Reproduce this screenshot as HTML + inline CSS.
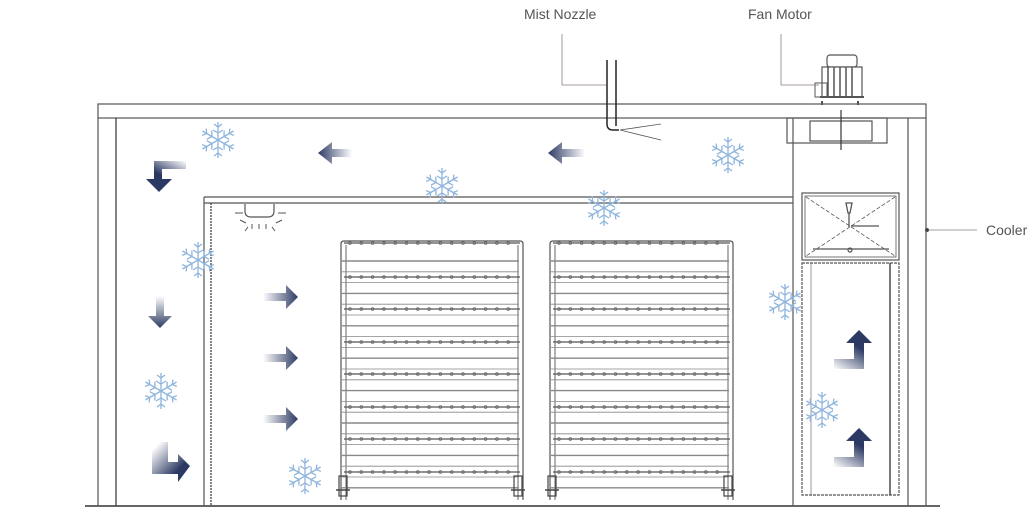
<!DOCTYPE html>
<html><head><meta charset="utf-8"><style>
html,body{margin:0;padding:0;background:#fff;width:1036px;height:519px;overflow:hidden}
svg{display:block}
text{font-family:"Liberation Sans",sans-serif;font-size:14px;fill:#555}
</style></head><body>
<svg id="s" width="1036" height="519" viewBox="0 0 1036 519" xmlns="http://www.w3.org/2000/svg">
<defs>
<linearGradient id="gl" x1="1" y1="0" x2="0" y2="0"><stop offset="0" stop-color="#2c3a63" stop-opacity="0"/><stop offset="1" stop-color="#2c3a63"/></linearGradient>
<linearGradient id="gr" x1="0" y1="0" x2="1" y2="0"><stop offset="0" stop-color="#2c3a63" stop-opacity="0"/><stop offset="1" stop-color="#2c3a63"/></linearGradient>
<linearGradient id="gd" x1="0" y1="0" x2="0" y2="1"><stop offset="0" stop-color="#2c3a63" stop-opacity="0"/><stop offset="1" stop-color="#2c3a63"/></linearGradient>
<linearGradient id="gu" x1="0" y1="1" x2="0.6" y2="0"><stop offset="0" stop-color="#2c3a63" stop-opacity="0"/><stop offset="0.7" stop-color="#2c3a63"/></linearGradient>
<linearGradient id="gc" x1="0.2" y1="0" x2="1" y2="0.8"><stop offset="0" stop-color="#2c3a63" stop-opacity="0"/><stop offset="0.75" stop-color="#2c3a63"/></linearGradient>
<linearGradient id="gt" x1="1" y1="0" x2="0.3" y2="1"><stop offset="0" stop-color="#2c3a63" stop-opacity="0"/><stop offset="0.6" stop-color="#2c3a63"/></linearGradient>
<g id="sf" stroke="#8fb5dd" stroke-width="1.3" fill="none">
<g id="br"><line x1="0" y1="0" x2="0" y2="-18"/><polyline points="-4,-16 0,-13 4,-16"/><polyline points="-5,-10 0,-7 5,-10"/></g>
<use href="#br" transform="rotate(60)"/><use href="#br" transform="rotate(120)"/><use href="#br" transform="rotate(180)"/><use href="#br" transform="rotate(240)"/><use href="#br" transform="rotate(300)"/>
</g>
</defs>
<g stroke="#555" fill="none" stroke-width="1.2">
<line x1="85" y1="506" x2="940" y2="506" stroke="#333" stroke-width="1.5"/>
<rect x="98" y="104" width="828" height="14"/>
<line x1="98" y1="118" x2="98" y2="506"/>
<line x1="116" y1="118" x2="116" y2="506" stroke="#333"/>
<line x1="926" y1="118" x2="926" y2="506"/>
<line x1="793" y1="118" x2="793" y2="506"/>
<line x1="908" y1="118" x2="908" y2="506"/>
<rect x="787" y="118" width="100" height="25"/>
<rect x="810" y="121" width="62" height="20"/>
<line x1="841" y1="110" x2="841" y2="150" stroke="#333"/>
<line x1="204" y1="197" x2="793" y2="197"/>
<line x1="204" y1="203" x2="793" y2="203"/>
<line x1="204" y1="197" x2="204" y2="506"/>
<line x1="211" y1="203" x2="211" y2="506" stroke-dasharray="2,1" stroke="#333"/>
<path d="M245 204 v7 q0 6 6 6 h17 q6 0 6 -6 v-7"/>
<path d="M235 213 h8 M278 213 h8 M240 220 l6 3 M282 220 l-6 3 M252 224 v5 M259 224 v5 M266 224 v5 M248 227 l-3 4 M272 227 l3 4" stroke-width="1"/>
<rect x="802" y="193" width="97" height="67"/>
<rect x="805" y="196" width="91" height="61" stroke-width="0.8"/>
<line x1="806" y1="197" x2="895" y2="256" stroke-dasharray="4,2" stroke-width="0.8"/>
<line x1="895" y1="197" x2="806" y2="256" stroke-dasharray="4,2" stroke-width="0.8"/>
<path d="M846 203 h6 l-2 10 h-2 z M849 213 v14 M851 226 h28" stroke-width="1.3"/>
<line x1="813" y1="249" x2="889" y2="249"/>
<circle cx="850" cy="250" r="2"/>
<rect x="802" y="263" width="97" height="232" stroke-dasharray="3,1"/>
<line x1="811" y1="263" x2="811" y2="495" stroke-width="0.6"/>
<line x1="890" y1="263" x2="890" y2="495" stroke="#222"/>
<rect x="827" y="55" width="30" height="12" rx="3"/>
<rect x="822" y="67" width="40" height="30" fill="#fff"/>
<path d="M828 67 v30 M834 67 v30 M840 67 v30 M846 67 v30 M852 67 v30" stroke-width="1.5"/>
<rect x="815" y="83" width="12" height="14" stroke-width="1"/>
<path d="M820 97 h44 M822 101 v4 M858 101 v4" stroke-width="2"/>
<path d="M607 60 v64 q0 6 6 6 h6 M616 60 v66" stroke="#222" stroke-width="1.5"/>
<path d="M620 130 l41 -6 M620 130 l41 10" stroke-width="0.8"/>
<path d="M562 34 v51 h44" stroke="#8a7f7a" stroke-width="0.8"/>
<path d="M781 34 v51 h38" stroke="#8a7f7a" stroke-width="0.8"/>
<line x1="927" y1="230" x2="977" y2="230" stroke="#8a7f7a" stroke-width="0.8"/>
<circle cx="927" cy="230" r="1.5" fill="#333"/>
</g>
<g id="racks" stroke="#666" fill="none"></g>
<path d="M318 153 l14 -11 v7 h20 v8 h-20 v7 z" fill="url(#gl)"/>
<path d="M548 153 l14 -11 v7 h23 v8 h-23 v7 z" fill="url(#gl)"/>
<path d="M298 297 l-12 -12 v8 h-23 v8 h23 v8 z" fill="url(#gr)"/>
<path d="M298 358 l-12 -12 v8 h-23 v8 h23 v8 z" fill="url(#gr)"/>
<path d="M298 419 l-12 -12 v8 h-23 v8 h23 v8 z" fill="url(#gr)"/>
<path d="M160 328 l-12 -12 h8 v-20 h8 v20 h8 z" fill="url(#gd)"/>
<path d="M159 192 l-13 -13 h8 v-18 h32 v8 h-24 v10 h10 z" fill="url(#gt)"/>
<path d="M190 466 l-12 -12 v8 h-10 v-20 h-16 v32 h26 v8 z" fill="url(#gc)"/>
<path d="M859 330 l13 13 h-8 v26 h-30 v-10 h20 v-16 h-8 z" fill="url(#gu)"/>
<path d="M859 428 l13 13 h-8 v26 h-30 v-10 h20 v-16 h-8 z" fill="url(#gu)"/>
<g id="flakes"></g>
<text x="524" y="19">Mist Nozzle</text>
<text x="748" y="19">Fan Motor</text>
<text x="986" y="235">Cooler</text>
</svg>
<script>
var NS="http://www.w3.org/2000/svg";
function el(p,t,a){var e=document.createElementNS(NS,t);for(var k in a)e.setAttribute(k,a[k]);p.appendChild(e);return e;}
var R=document.getElementById("racks");
[[338,523],[547,733]].forEach(function(r){
 var x0=r[0],x1=r[1];
 el(R,"path",{d:"M"+(x0+3)+" 500 V244 q0 -3 3 -3 H"+(x1-3)+" q3 0 3 3 V500",stroke:"#555","stroke-width":"1.2"});
 el(R,"path",{d:"M"+(x0+8)+" 500 V245 M"+(x1-5)+" 500 V245","stroke-width":"1"});
 var dots=[243,277,309,342,374,407,439,472];
 dots.forEach(function(y){
  el(R,"line",{x1:x0+6,y1:y,x2:x1-3,y2:y,"stroke-width":"1.3",stroke:"#555"});
  for(var x=x0+12;x<x1-6;x+=11.3)el(R,"circle",{cx:x,cy:y,r:1.4,"stroke-width":"0.8"});
 });
 for(var y=261;y<490;y+=10.8){el(R,"line",{x1:x0+4,y1:y,x2:x1-4,y2:y,stroke:"#888","stroke-width":(Math.round((y-261)/10.8)%3==0?"1.4":"0.8")});}
 [x0+5,x1-5].forEach(function(x){el(R,"rect",{x:x-4,y:476,width:8,height:20,"stroke-width":"1.2",stroke:"#444"});el(R,"line",{x1:x-7,y1:490,x2:x+7,y2:490,"stroke-width":"1.5",stroke:"#444"});});
});
var F=document.getElementById("flakes");
[[218,140],[442,186],[604,208],[728,155],[198,260],[161,391],[305,476],[785,302],[822,410]].forEach(function(p){
 el(F,"use",{href:"#sf",transform:"translate("+p[0]+","+p[1]+")"});
});
</script>
</body></html>
